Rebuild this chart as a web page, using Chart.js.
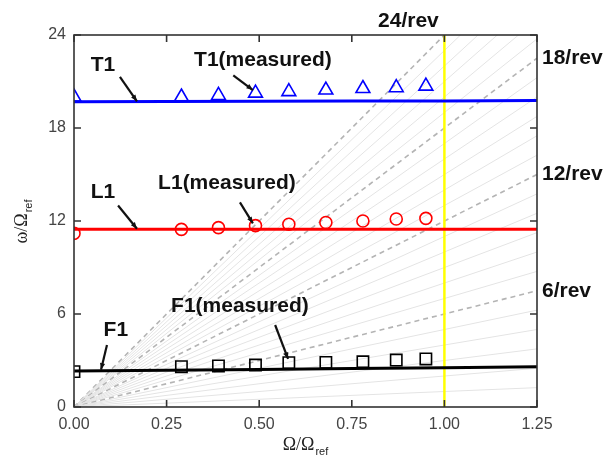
<!DOCTYPE html>
<html><head><meta charset="utf-8">
<script src="https://cdn.jsdelivr.net/npm/chart.js@4/dist/chart.umd.min.js"></script>
<style>html,body{margin:0;padding:0;background:#fff}#wrap{width:605px;height:467px}</style>
</head><body><div id="wrap"><canvas id="c" width="605" height="467"></canvas></div>
<script>
// ---- data ----
const speedRatio = [0.00, 0.29, 0.39, 0.49, 0.58, 0.68, 0.78, 0.87, 0.95];
const t1Measured = [20.0, 20.0, 20.1, 20.25, 20.35, 20.45, 20.55, 20.6, 20.7];
const l1Measured = [11.2, 11.46, 11.57, 11.7, 11.79, 11.9, 12.0, 12.13, 12.17];
const f1Measured = [2.28, 2.6, 2.65, 2.71, 2.86, 2.88, 2.92, 3.03, 3.1];
const calcSpeed = [0.00, 0.25, 0.50, 0.75, 1.00, 1.25];
const t1Calc = [19.7, 19.71, 19.72, 19.74, 19.75, 19.77];
const l1Calc = [11.46, 11.46, 11.46, 11.46, 11.46, 11.46];
const f1Calc = [2.32, 2.37, 2.42, 2.48, 2.54, 2.6];
const revOrders = [1,2,3,4,5,6,7,8,9,10,11,12,13,14,15,16,17,18,19,20,21,22,23,24];
const majorRevs = [6, 12, 18, 24];
const xTicks = [0, 0.25, 0.5, 0.75, 1.0, 1.25];
const yTicks = [0, 6, 12, 18, 24];

const pts = (xs, ys) => xs.map((x, i) => ({x, y: ys[i]}));

const datasets = [];
revOrders.forEach(n => {
  const major = majorRevs.includes(n);
  datasets.push({
    type: 'line', data: [{x: 0, y: 0}, {x: 1.25, y: n * 1.25}],
    borderColor: major ? '#b4b4b4' : '#e4e4e4',
    borderWidth: major ? 1.6 : 1,
    borderDash: major ? [5, 4] : [],
    pointRadius: 0, order: 10
  });
});
datasets.push({type:'line', data:[{x:1, y:0},{x:1, y:24}], borderColor:'#ffff00', borderWidth:2.5, pointRadius:0, order:8});
datasets.push({type:'line', data: pts(calcSpeed, t1Calc), borderColor:'#0000ff', borderWidth:3, pointRadius:0, order:5});
datasets.push({type:'line', data: pts(calcSpeed, l1Calc), borderColor:'#ff0000', borderWidth:3, pointRadius:0, order:5});
datasets.push({type:'line', data: pts(calcSpeed, f1Calc), borderColor:'#000000', borderWidth:3, pointRadius:0, order:5});
datasets.push({type:'scatter', data: pts(speedRatio, t1Measured), pointStyle:'triangle', pointRadius:8, borderColor:'#0000ff', backgroundColor:'rgba(0,0,0,0)', pointBorderWidth:1.6, clip:0, order:1});
datasets.push({type:'scatter', data: pts(speedRatio, l1Measured), pointStyle:'circle', pointRadius:6, borderColor:'#ff0000', backgroundColor:'rgba(0,0,0,0)', pointBorderWidth:1.6, clip:0, order:1});
datasets.push({type:'scatter', data: pts(speedRatio, f1Measured), pointStyle:'rect', pointRadius:8, borderColor:'#000000', backgroundColor:'rgba(0,0,0,0)', pointBorderWidth:1.6, clip:0, order:1});

// annotations (text in data units, arrows from/to in data units)
const notes = [
  {text:'T1', x:0.078, y:22.06, from:[0.124,21.3], to:[0.17,19.72]},
  {text:'T1(measured)', x:0.51, y:22.4, from:[0.43,21.4], to:[0.483,20.45]},
  {text:'L1', x:0.078, y:13.87, from:[0.119,13.0], to:[0.17,11.5]},
  {text:'L1(measured)', x:0.413, y:14.45, from:[0.448,13.2], to:[0.483,11.85]},
  {text:'F1', x:0.113, y:4.97, from:[0.089,4.0], to:[0.073,2.4]},
  {text:'F1(measured)', x:0.448, y:6.52, from:[0.543,5.29], to:[0.578,3.1]}
];
const revLabels = [
  {text:'24/rev', n:24},
  {text:'18/rev', n:18},
  {text:'12/rev', n:12},
  {text:'6/rev', n:6}
];

const decor = {
  id: 'decor',
  afterDatasetsDraw(chart) {
    const ctx = chart.ctx, a = chart.chartArea, xs = chart.scales.x, ys = chart.scales.y;
    ctx.save();
    // frame
    ctx.strokeStyle = '#333'; ctx.lineWidth = 1.6;
    ctx.strokeRect(a.left, a.top, a.right - a.left, a.bottom - a.top);
    // inward ticks
    xTicks.forEach(v => {
      const px = xs.getPixelForValue(v);
      ctx.beginPath(); ctx.moveTo(px, a.bottom); ctx.lineTo(px, a.bottom - 7);
      ctx.moveTo(px, a.top); ctx.lineTo(px, a.top + 7); ctx.stroke();
    });
    yTicks.forEach(v => {
      const py = ys.getPixelForValue(v);
      ctx.beginPath(); ctx.moveTo(a.left, py); ctx.lineTo(a.left + 7, py);
      ctx.moveTo(a.right, py); ctx.lineTo(a.right - 7, py); ctx.stroke();
    });
    // notes
    ctx.fillStyle = '#111'; ctx.strokeStyle = '#111';
    ctx.font = 'bold 21px "Liberation Sans", Arial, sans-serif';
    ctx.textAlign = 'center'; ctx.textBaseline = 'middle';
    notes.forEach(n => {
      ctx.fillText(n.text, xs.getPixelForValue(n.x), ys.getPixelForValue(n.y));
      const x1 = xs.getPixelForValue(n.from[0]), y1 = ys.getPixelForValue(n.from[1]);
      const x2 = xs.getPixelForValue(n.to[0]), y2 = ys.getPixelForValue(n.to[1]);
      ctx.lineWidth = 2.2;
      ctx.beginPath(); ctx.moveTo(x1, y1); ctx.lineTo(x2, y2); ctx.stroke();
      const ang = Math.atan2(y2 - y1, x2 - x1), L = 7, w = 0.38;
      ctx.beginPath(); ctx.moveTo(x2, y2);
      ctx.lineTo(x2 - L * Math.cos(ang - w), y2 - L * Math.sin(ang - w));
      ctx.lineTo(x2 - L * Math.cos(ang + w), y2 - L * Math.sin(ang + w));
      ctx.closePath(); ctx.fill();
    });
    // rev labels
    revLabels.forEach(r => {
      if (r.n * 1.25 > 24) {
        const px = xs.getPixelForValue(24 / r.n);
        ctx.textAlign = 'center';
        ctx.fillText(r.text, px - 36, a.top - 14);
      } else {
        ctx.textAlign = 'left';
        ctx.fillText(r.text, a.right + 5, ys.getPixelForValue(r.n * 1.25));
      }
    });
    // axis titles
    ctx.fillStyle = '#222';
    const sub = (mainTxt, subTxt, cx, cy) => {
      ctx.font = '18px "Liberation Serif", "Times New Roman", serif';
      const w1 = ctx.measureText(mainTxt).width;
      ctx.font = '11px "Liberation Sans", Arial, sans-serif';
      const w2 = ctx.measureText(subTxt).width;
      const x0 = cx - (w1 + w2) / 2;
      ctx.textAlign = 'left'; ctx.textBaseline = 'alphabetic';
      ctx.font = '18px "Liberation Serif", "Times New Roman", serif';
      ctx.fillText(mainTxt, x0, cy);
      ctx.font = '11px "Liberation Sans", Arial, sans-serif';
      ctx.fillText(subTxt, x0 + w1 + 1, cy + 5);
    };
    sub('Ω/Ω', 'ref', 305, 450);
    ctx.save();
    ctx.translate(27, 222); ctx.rotate(-Math.PI / 2);
    sub('ω/Ω', 'ref', 0, 0);
    ctx.restore();
    ctx.restore();
  }
};

new Chart(document.getElementById('c'), {
  data: {datasets},
  options: {
    responsive: false, animation: false,
    layout: {padding: {left: 0, right: 68, top: 35, bottom: 0}},
    plugins: {legend: {display: false}, tooltip: {enabled: false}},
    scales: {
      x: {type: 'linear', min: 0, max: 1.25,
          afterFit(s) { s.height = 60; },
          grid: {display: false, drawTicks: false}, border: {display: false},
          ticks: {stepSize: 0.25, padding: 8, color: '#444', font: {size: 16, family: '"Liberation Sans", Arial, sans-serif'},
                  callback: v => Number(v).toFixed(2), maxRotation: 0}},
      y: {type: 'linear', min: 0, max: 24,
          afterFit(s) { s.width = 74; },
          grid: {display: false, drawTicks: false}, border: {display: false},
          ticks: {stepSize: 6, padding: 8, color: '#444', font: {size: 16, family: '"Liberation Sans", Arial, sans-serif'}}}
    }
  },
  plugins: [decor]
});
</script></body></html>
